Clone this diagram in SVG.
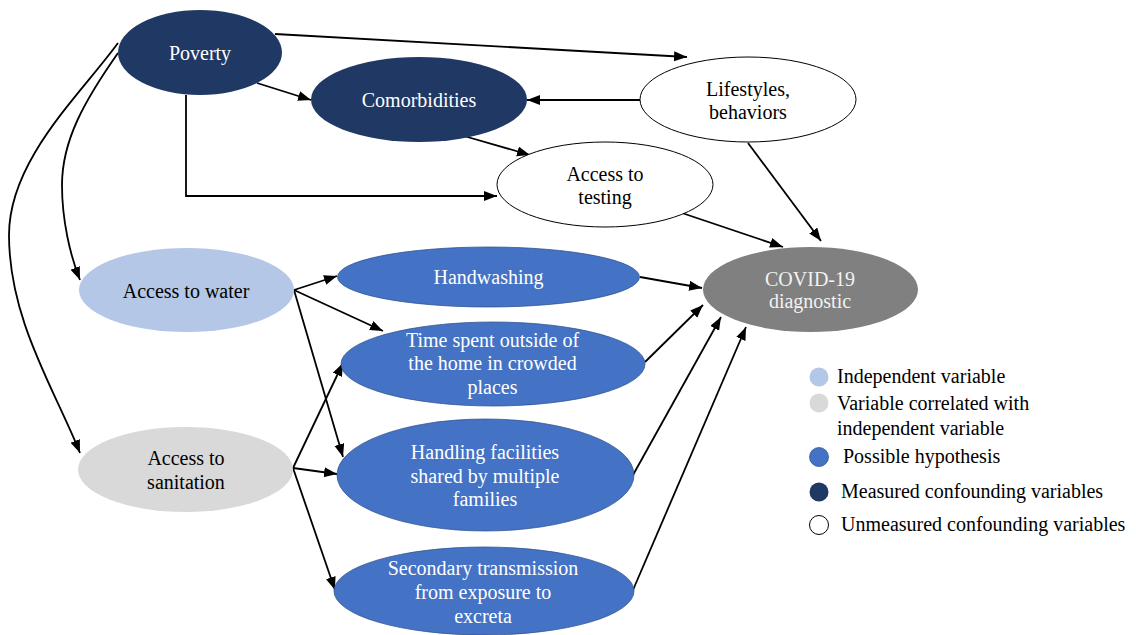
<svg xmlns="http://www.w3.org/2000/svg" width="1136" height="635" viewBox="0 0 1136 635">
<style>
text{font-family:"Liberation Serif","Times New Roman",serif;font-size:20px;text-anchor:middle}
.w{fill:#ffffff}
.k{fill:#000000}
.lg{text-anchor:start;fill:#000000}
.navy{fill:#203864}
.lblue{fill:#B4C7E7}
.gray{fill:#D9D9D9}
.hyp{fill:#4472C4;stroke:#2F528F;stroke-width:0.75}
.unm{fill:#ffffff;stroke:#000000;stroke-width:1}
.cov{fill:#808080}
.e{fill:none;stroke:#000000;stroke-width:1.8;marker-end:url(#ah)}
</style>
<defs>
<marker id="ah" markerUnits="userSpaceOnUse" markerWidth="14" markerHeight="12" refX="13" refY="5" orient="auto">
<path d="M0,0 L13,5 L0,10 z" fill="#000000"/>
</marker>
</defs>
<rect width="1136" height="635" fill="#ffffff"/>
<g id="connectors">
<path class="e" d="M275,34 L687,57"/>
<path class="e" d="M257,83 L311,100"/>
<path class="e" d="M186,95 L186,196 L497,196"/>
<path class="e" d="M640,100 L527,100"/>
<path class="e" d="M464,136 L530,155"/>
<path class="e" d="M682,213 L783,247"/>
<path class="e" d="M748,143 L821,241"/>
<path class="e" d="M118,53 C85,100 62,140 62,185 C62,220 70,255 80,280"/>
<path class="e" d="M118,43 C80,95 9,160 9,235 C9,320 55,390 80,453"/>
<path class="e" d="M294,290 L337,276"/>
<path class="e" d="M294,290 L383,331"/>
<path class="e" d="M294,290 L343,457"/>
<path class="e" d="M293,468 L343,363"/>
<path class="e" d="M293,468 L337,474"/>
<path class="e" d="M293,468 L335,590"/>
<path class="e" d="M640,277 L702,288"/>
<path class="e" d="M645,362 L703,305"/>
<path class="e" d="M633,475 L721,317"/>
<path class="e" d="M633,590 L746,327"/>
</g>
<g id="poverty">
<ellipse class="navy" cx="200" cy="52.5" rx="82" ry="42.5"/>
<text class="w" x="200" y="60">Poverty</text>
</g>
<g id="comorbidities">
<ellipse class="navy" cx="419" cy="99.5" rx="108" ry="42.5"/>
<text class="w" x="419" y="107">Comorbidities</text>
</g>
<g id="lifestyles">
<ellipse class="unm" cx="748" cy="99.5" rx="108" ry="42.5"/>
<text class="k" x="748" y="96">Lifestyles,</text>
<text class="k" x="748" y="119">behaviors</text>
</g>
<g id="testing">
<ellipse class="unm" cx="605" cy="184.5" rx="108" ry="42.5"/>
<text class="k" x="605" y="181">Access to</text>
<text class="k" x="605" y="204">testing</text>
</g>
<g id="covid">
<ellipse class="cov" cx="810.5" cy="289.5" rx="107.5" ry="42.5"/>
<text fill="#F2F2F2" x="810" y="286">COVID-19</text>
<text fill="#F2F2F2" x="810" y="308">diagnostic</text>
</g>
<g id="water">
<ellipse class="lblue" cx="186.5" cy="290" rx="107.5" ry="42"/>
<text class="k" x="186" y="298">Access to water</text>
</g>
<g id="sanitation">
<ellipse class="gray" cx="185.5" cy="469.5" rx="107.5" ry="42.5"/>
<text class="k" x="186" y="465">Access to</text>
<text class="k" x="186" y="489">sanitation</text>
</g>
<g id="handwashing">
<ellipse class="hyp" cx="488.5" cy="277" rx="151" ry="30"/>
<text class="w" x="488.5" y="284">Handwashing</text>
</g>
<g id="timespent">
<ellipse class="hyp" cx="493" cy="364" rx="152" ry="42"/>
<text class="w" x="492.5" y="347">Time spent outside of</text>
<text class="w" x="492.5" y="370">the home in crowded</text>
<text class="w" x="492.5" y="394">places</text>
</g>
<g id="handling">
<ellipse class="hyp" cx="485.5" cy="475" rx="148.5" ry="56"/>
<text class="w" x="485" y="459">Handling facilities</text>
<text class="w" x="485" y="483">shared by multiple</text>
<text class="w" x="485" y="506">families</text>
</g>
<g id="secondary">
<ellipse class="hyp" cx="484" cy="591" rx="150" ry="44"/>
<text class="w" x="483" y="575">Secondary transmission</text>
<text class="w" x="483" y="599">from exposure to</text>
<text class="w" x="483" y="623">excreta</text>
</g>
<g id="legend">
<circle class="lblue" cx="819" cy="377" r="9.5"/>
<text class="lg" x="837" y="383">Independent variable</text>
<circle class="gray" cx="819" cy="403" r="9.5"/>
<text class="lg" x="837" y="410">Variable correlated with</text>
<text class="lg" x="837" y="435">independent variable</text>
<circle class="hyp" cx="819" cy="457" r="9.5"/>
<text class="lg" x="843" y="463">Possible hypothesis</text>
<circle class="navy" cx="819" cy="492" r="9.5"/>
<text class="lg" x="841" y="498">Measured confounding variables</text>
<circle class="unm" cx="819" cy="525" r="9.5"/>
<text class="lg" x="841" y="531">Unmeasured confounding variables</text>
</g>
</svg>
